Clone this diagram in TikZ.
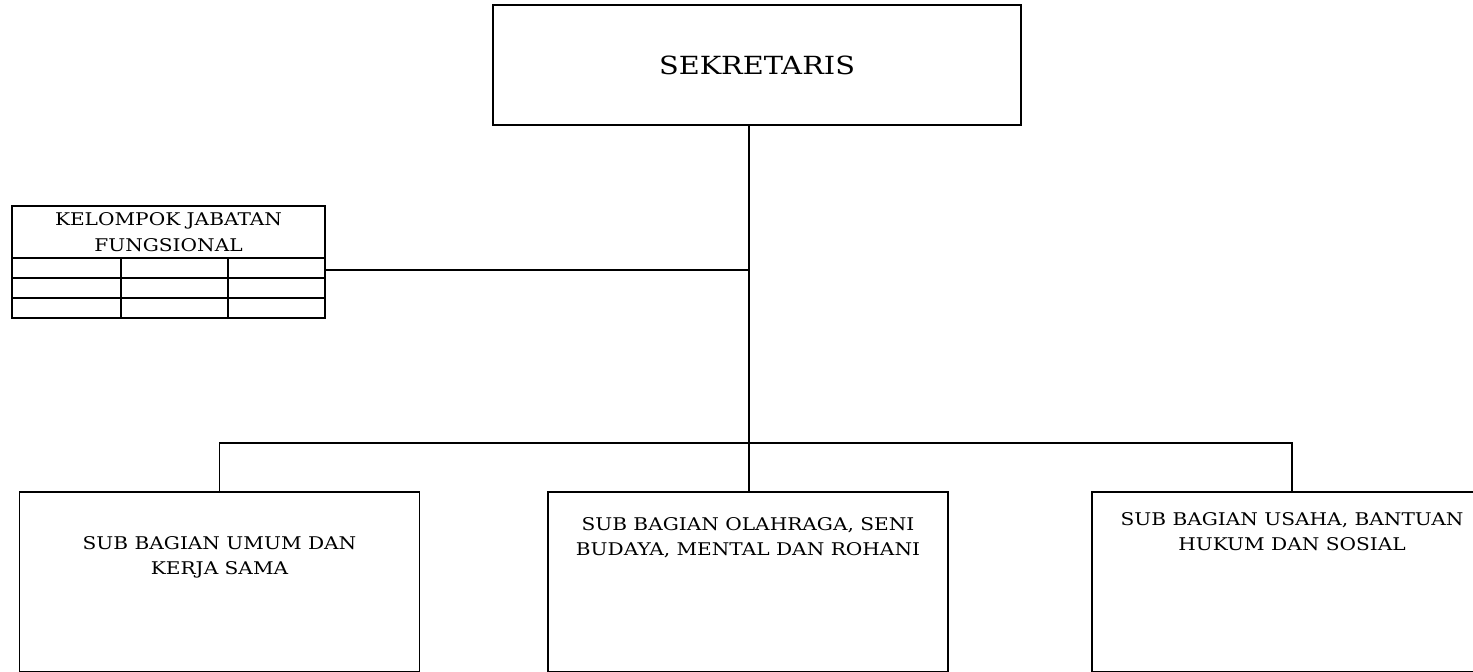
\documentclass[tikz,border=0pt]{standalone}
\usepackage{fontspec}
\setmainfont{DejaVu Serif}[FakeStretch=1.15]
\usetikzlibrary{positioning}

\begin{document}
\begin{tikzpicture}[x=1pt, y=-1pt, line width=1.6pt,
  unitbox/.style={draw, rectangle, inner sep=0pt, minimum width=400, minimum height=180},
  unittext/.style={align=center, inner sep=0pt, font=\fontsize{17.5}{25}\selectfont}]
  \useasboundingbox (0,0) rectangle (1473,672);
  % kepala
  \node[draw, rectangle, minimum width=528, minimum height=120,
        font=\fontsize{25}{28}\selectfont] (sek) at (757,65) {SEKRETARIS};
  % kelompok jabatan fungsional
  \node[draw, rectangle, inner sep=0pt, minimum width=313, minimum height=112] (kjf) at (168.5,262) {};
  \node[unittext, font=\fontsize{17.5}{26}\selectfont, below=7pt of kjf.north] (kjftext) {KELOMPOK JABATAN\\FUNGSIONAL};
  \foreach \y in {258,278,298}
    \draw (kjf.west |- 0,\y) -- (kjf.east |- 0,\y);
  \foreach \x in {121,228}
    \draw (\x,258) -- (\x,318);
  % sub bagian
  \node[unitbox] (ub1) at (219.5,582) {};
  \node[unitbox] (ub2) at (748,582) {};
  \node[unitbox] (ub3) at (1292,582) {};
  \node[unittext, below=45pt of ub1.north] (ub1text) {SUB BAGIAN UMUM DAN\\KERJA SAMA};
  \node[unittext, below=26pt of ub2.north] (ub2text) {SUB BAGIAN OLAHRAGA, SENI\\BUDAYA, MENTAL DAN ROHANI};
  \node[unittext, below=21pt of ub3.north] (ub3text) {SUB BAGIAN USAHA, BANTUAN\\HUKUM DAN SOSIAL};
  % garis
  \coordinate (jkjf) at (749,270);
  \coordinate (bus) at (749,443);
  \draw (sek.south -| bus) -- (bus);
  \draw (jkjf) -- (kjf.east |- jkjf);
  \draw (ub1.north) |- (bus) -| (ub3.north);
  \draw (bus) -- (ub2.north -| bus);
\end{tikzpicture}
\end{document}
